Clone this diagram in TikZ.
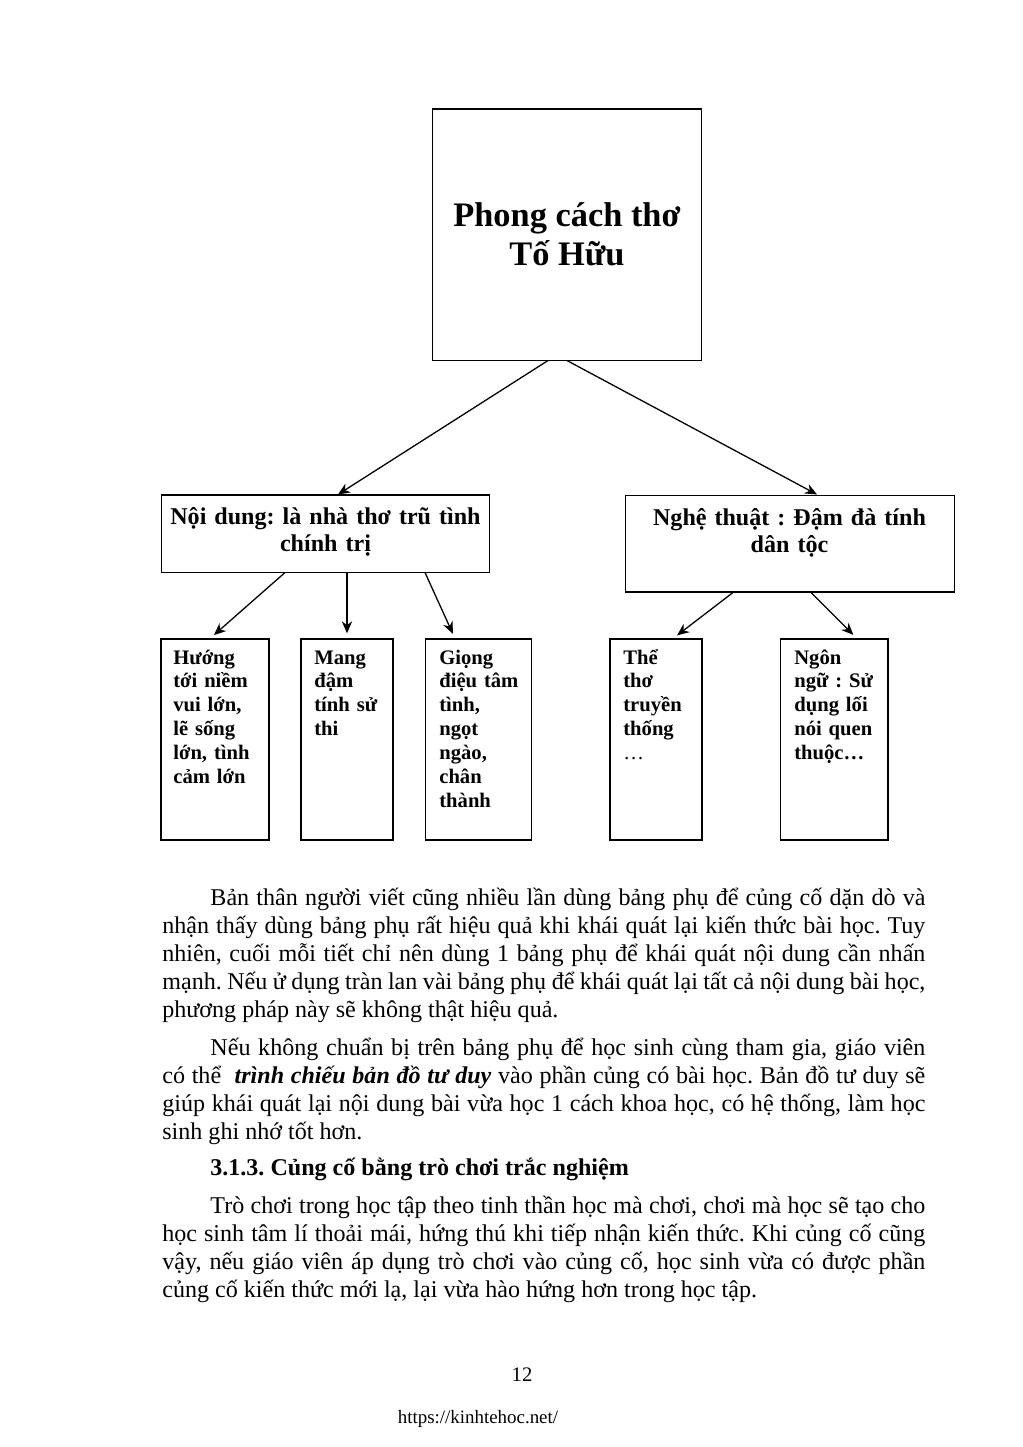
\documentclass[tikz,border=0pt]{standalone}
\usepackage{fontspec}
\setmainfont{Liberation Serif}
\usetikzlibrary{arrows.meta,calc,positioning}
\frenchspacing

\begin{document}
\begin{tikzpicture}[
        x=0.5816pt, y=-0.5816pt,
        box/.style={draw, line width=0.6pt, inner sep=0pt},
        leaf/.style={box, minimum width=#1, minimum height=116.9pt},
        branchtext/.style={font=\fontsize{14}{15.7}\selectfont\bfseries, align=center, text width=190pt, inner sep=0pt, anchor=base},
        leaftext/.style={font=\fontsize{12}{13.9}\selectfont\bfseries, align=left, text width=55pt, inner sep=0pt, anchor=base west},
        body/.style={font=\fontsize{14}{16.3}\selectfont, align=justify, text width=443.8pt, inner sep=0pt, anchor=base west},
        heading/.style={font=\fontsize{14}{16.3}\selectfont\bfseries, inner sep=0pt, anchor=base west},
        link/.style={-{Stealth[length=7pt,width=6pt]}, line width=0.75pt}
      ]
        \useasboundingbox (0,0) rectangle (1023,1447);

        % The root and the two branches
        \node[box, minimum width=157pt, minimum height=146pt, align=center, font=\fontsize{20}{22.7}\selectfont\bfseries] (Root) at (567,234.5) {Phong cách thơ\\Tố Hữu};
        \node[box, minimum width=191.3pt, minimum height=44.8pt] (L) at (325.5,533.5) {};
        \node[box, minimum width=190.8pt, minimum height=56.4pt] (R) at (790,543.5) {};
        \node[branchtext] (tL) at (325.5,524) {Nội dung: là nhà thơ trũ tình\\chính trị};
        \node[branchtext] (tR) at (789.5,525) {Nghệ thuật : Đậm đà tính\\dân tộc};

        % The five leaves
        \node[leaf=62.8pt] (A) at (215,739.5) {};
        \node[leaf=53.5pt] (B) at (347,739.5) {};
        \node[leaf=62.2pt] (C) at (478.5,739.5) {};
        \node[leaf=53.5pt] (D) at (656,739.5) {};
        \node[leaf=62.8pt] (E) at (834,739.5) {};

        \node[leaftext] (tA) at (173,664) {Hướng\\tới niềm\\vui lớn,\\lẽ sống\\lớn, tình\\cảm lớn};
        \node[leaftext] (tB) at (314,664) {Mang\\đậm\\tính sử\\thi};
        \node[leaftext] (tC) at (439,664) {Giọng\\điệu tâm\\tình,\\ngọt\\ngào,\\chân\\thành};
        \node[leaftext] (tD) at (623,664) {Thể\\thơ\\truyền\\thống\\{\mdseries …}};
        \node[leaftext] (tE) at (794,664) {Ngôn\\ngữ : Sử\\dụng lối\\nói quen\\thuộc…};

        \draw[link] ($(Root.south)+(-19,0)$) -- ($(L.north)+(12.5,0)$);
        \draw[link] (Root.south) -- ($(R.north)+(27,0)$);

        \draw[link, shorten >=3pt] ($(L.south)+(-40.5,0)$) -- ($(A.north)+(-5,0)$);
        \draw[link, shorten >=3pt] ($(L.south)+(21.5,0)$) -- (B.north);
        \draw[link, shorten >=3pt] ($(L.south)+(99.5,0)$) -- ($(C.north)+(-23.5,0)$);

        \draw[link, shorten >=3pt] ($(R.south)+(-57,0)$) -- ($(D.north)+(17,0)$);
        \draw[link, shorten >=3pt] ($(R.south)+(21,0)$) -- ($(E.north)+(23,0)$);

        % Text of the page below the diagram
        \node[body] (p1) at (162,905) {\hspace*{28pt}Bản thân người viết cũng nhiều lần dùng bảng phụ để củng cố dặn dò và\linebreak
          nhận thấy dùng bảng phụ rất hiệu quả khi khái quát lại kiến thức bài học. Tuy\linebreak
          nhiên, cuối mỗi tiết chỉ nên dùng 1 bảng phụ để khái quát nội dung cần nhấn\linebreak
          mạnh. Nếu ử dụng tràn lan vài bảng phụ để khái quát lại tất cả nội dung bài học,\linebreak
          phương pháp này sẽ không thật hiệu quả.};
        \node[body] (p2) at (162,1055) {\hspace*{28pt}Nếu không chuẩn bị trên bảng phụ để học sinh cùng tham gia, giáo viên\linebreak
          có thể \ \textbf{\textit{trình chiếu bản đồ tư duy}} vào phần củng có bài học. Bản đồ tư duy sẽ\linebreak
          giúp khái quát lại nội dung bài vừa học 1 cách khoa học, có hệ thống, làm học\linebreak
          sinh ghi nhớ tốt hơn.};
        \node[heading] (h313) at (210,1175) {3.1.3. Củng cố bằng trò chơi trắc nghiệm};
        \node[body] (p3) at (162,1213) {\hspace*{28pt}Trò chơi trong học tập theo tinh thần học mà chơi, chơi mà học sẽ tạo cho\linebreak
          học sinh tâm lí thoải mái, hứng thú khi tiếp nhận kiến thức. Khi củng cố cũng\linebreak
          vậy, nếu giáo viên áp dụng trò chơi vào củng cố, học sinh vừa có được phần\linebreak
          củng cố kiến thức mới lạ, lại vừa hào hứng hơn trong học tập.};

        \node[font=\fontsize{12}{14}\selectfont, inner sep=0pt, anchor=base] (pg) at (522,1381) {12};
        \node[font=\fontsize{11}{13}\selectfont, inner sep=0pt, anchor=base] (url) at (478,1423) {https://kinhtehoc.net/};
      \end{tikzpicture}
\end{document}
